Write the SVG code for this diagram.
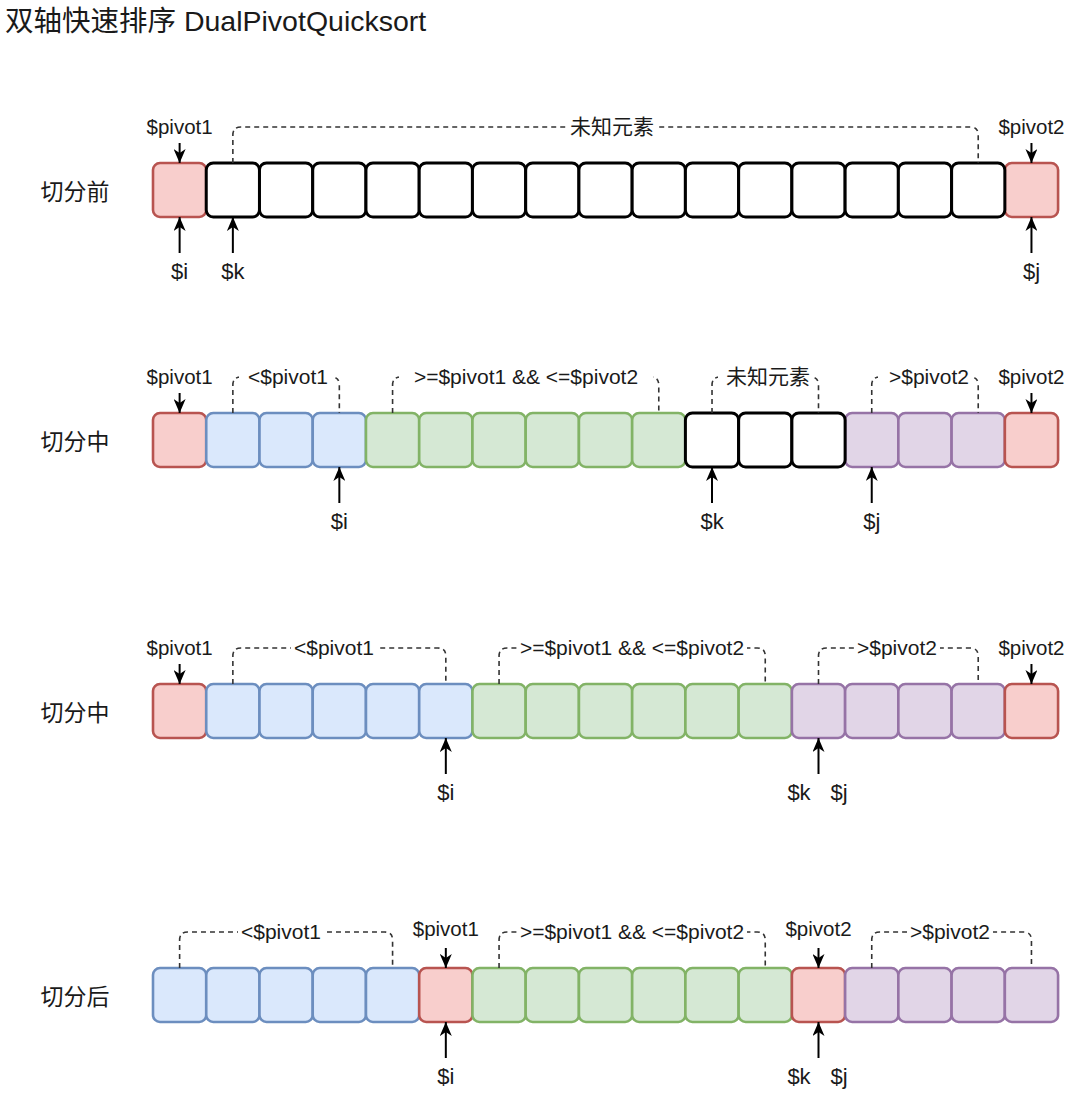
<svg xmlns="http://www.w3.org/2000/svg" width="1080" height="1094" viewBox="0 0 1080 1094">
<defs>
<style>
text{font-family:"Liberation Sans","Noto Sans CJK SC",sans-serif;fill:#1a1a1a}
.title{font-size:28.5px}
.row{font-size:23px;text-anchor:middle}
.lbl{font-size:20.5px;text-anchor:middle}
.var{font-size:22px;text-anchor:middle}
.blab{font-size:21px;text-anchor:middle}
.c{rx:7;ry:7;width:53.24px;height:54px}
.red{fill:#f8cecc;stroke:#b85450;stroke-width:2.6}
.blue{fill:#dae8fc;stroke:#6c8ebf;stroke-width:2.6}
.green{fill:#d5e8d4;stroke:#82b366;stroke-width:2.6}
.purple{fill:#e1d5e7;stroke:#9673a6;stroke-width:2.6}
.white{fill:#fff;stroke:#000;stroke-width:3}
.arr{stroke:#000;stroke-width:2;fill:none;marker-end:url(#ah)}
.br{stroke:#333;stroke-width:1.6;fill:none;stroke-dasharray:5 4}
.bg{fill:#fff}
</style>
<marker id="ah" viewBox="0 0 14 12" refX="14" refY="6" markerWidth="14" markerHeight="12" markerUnits="userSpaceOnUse" orient="auto"><path d="M0,0 L14,6 L0,12 L4,6 Z" fill="#000"/></marker>
</defs>
<rect width="1080" height="1094" fill="#fff"/>
<text class="title" x="5" y="31">双轴快速排序 DualPivotQuicksort</text>

<!-- Row 1 -->
<g id="row1">
<text class="row" x="75" y="200">切分前</text>
<g id="r1c0"><rect class="c red" x="153" y="163"/></g>
<g id="r1c16"><rect class="c red" x="1004.84" y="163"/></g>
<g id="r1c1"><rect class="c white" x="206.24" y="163"/></g>
<g id="r1c2"><rect class="c white" x="259.48" y="163"/></g>
<g id="r1c3"><rect class="c white" x="312.72" y="163"/></g>
<g id="r1c4"><rect class="c white" x="365.96" y="163"/></g>
<g id="r1c5"><rect class="c white" x="419.2" y="163"/></g>
<g id="r1c6"><rect class="c white" x="472.44" y="163"/></g>
<g id="r1c7"><rect class="c white" x="525.68" y="163"/></g>
<g id="r1c8"><rect class="c white" x="578.92" y="163"/></g>
<g id="r1c9"><rect class="c white" x="632.16" y="163"/></g>
<g id="r1c10"><rect class="c white" x="685.4" y="163"/></g>
<g id="r1c11"><rect class="c white" x="738.64" y="163"/></g>
<g id="r1c12"><rect class="c white" x="791.88" y="163"/></g>
<g id="r1c13"><rect class="c white" x="845.12" y="163"/></g>
<g id="r1c14"><rect class="c white" x="898.36" y="163"/></g>
<g id="r1c15"><rect class="c white" x="951.6" y="163"/></g>
<g id="r1-pivot1"><text class="lbl" x="179.62" y="134">$pivot1</text></g>
<g id="r1-pivot2"><text class="lbl" x="1031.46" y="134">$pivot2</text></g>
<g id="r1-i"><text class="var" x="179.62" y="279">$i</text></g>
<g id="r1-k"><text class="var" x="232.86" y="279">$k</text></g>
<g id="r1-j"><text class="var" x="1031.46" y="279">$j</text></g>
</g>

<!-- Row 2 -->
<g id="row2">
<text class="row" x="75" y="450">切分中</text>
<g id="r2c0"><rect class="c red" x="153" y="413"/></g>
<g id="r2c1"><rect class="c blue" x="206.24" y="413"/></g>
<g id="r2c2"><rect class="c blue" x="259.48" y="413"/></g>
<g id="r2c3"><rect class="c blue" x="312.72" y="413"/></g>
<g id="r2c4"><rect class="c green" x="365.96" y="413"/></g>
<g id="r2c5"><rect class="c green" x="419.2" y="413"/></g>
<g id="r2c6"><rect class="c green" x="472.44" y="413"/></g>
<g id="r2c7"><rect class="c green" x="525.68" y="413"/></g>
<g id="r2c8"><rect class="c green" x="578.92" y="413"/></g>
<g id="r2c9"><rect class="c green" x="632.16" y="413"/></g>
<g id="r2c13"><rect class="c purple" x="845.12" y="413"/></g>
<g id="r2c14"><rect class="c purple" x="898.36" y="413"/></g>
<g id="r2c15"><rect class="c purple" x="951.6" y="413"/></g>
<g id="r2c16"><rect class="c red" x="1004.84" y="413"/></g>
<g id="r2c10"><rect class="c white" x="685.4" y="413"/></g>
<g id="r2c11"><rect class="c white" x="738.64" y="413"/></g>
<g id="r2c12"><rect class="c white" x="791.88" y="413"/></g>
<g id="r2-pivot1"><text class="lbl" x="179.62" y="384">$pivot1</text></g>
<g id="r2-pivot2"><text class="lbl" x="1031.46" y="384">$pivot2</text></g>
<g id="r2-i"><text class="var" x="339.34" y="529">$i</text></g>
<g id="r2-k"><text class="var" x="712.02" y="529">$k</text></g>
<g id="r2-j"><text class="var" x="871.74" y="529">$j</text></g>
</g>

<!-- Row 3 -->
<g id="row3">
<text class="row" x="75" y="721">切分中</text>
<g id="r3c0"><rect class="c red" x="153" y="684"/></g>
<g id="r3c1"><rect class="c blue" x="206.24" y="684"/></g>
<g id="r3c2"><rect class="c blue" x="259.48" y="684"/></g>
<g id="r3c3"><rect class="c blue" x="312.72" y="684"/></g>
<g id="r3c4"><rect class="c blue" x="365.96" y="684"/></g>
<g id="r3c5"><rect class="c blue" x="419.2" y="684"/></g>
<g id="r3c6"><rect class="c green" x="472.44" y="684"/></g>
<g id="r3c7"><rect class="c green" x="525.68" y="684"/></g>
<g id="r3c8"><rect class="c green" x="578.92" y="684"/></g>
<g id="r3c9"><rect class="c green" x="632.16" y="684"/></g>
<g id="r3c10"><rect class="c green" x="685.4" y="684"/></g>
<g id="r3c11"><rect class="c green" x="738.64" y="684"/></g>
<g id="r3c12"><rect class="c purple" x="791.88" y="684"/></g>
<g id="r3c13"><rect class="c purple" x="845.12" y="684"/></g>
<g id="r3c14"><rect class="c purple" x="898.36" y="684"/></g>
<g id="r3c15"><rect class="c purple" x="951.6" y="684"/></g>
<g id="r3c16"><rect class="c red" x="1004.84" y="684"/></g>
<g id="r3-pivot1"><text class="lbl" x="179.62" y="655">$pivot1</text></g>
<g id="r3-pivot2"><text class="lbl" x="1031.46" y="655">$pivot2</text></g>
<g id="r3-i"><text class="var" x="445.82" y="800">$i</text></g>
<g id="r3-k"><text class="var" x="799" y="800">$k</text></g>
<g id="r3-j"><text class="var" x="839" y="800">$j</text></g>
</g>

<!-- Row 4 -->
<g id="row4">
<text class="row" x="75" y="1005">切分后</text>
<g id="r4c0"><rect class="c blue" x="153" y="968"/></g>
<g id="r4c1"><rect class="c blue" x="206.24" y="968"/></g>
<g id="r4c2"><rect class="c blue" x="259.48" y="968"/></g>
<g id="r4c3"><rect class="c blue" x="312.72" y="968"/></g>
<g id="r4c4"><rect class="c blue" x="365.96" y="968"/></g>
<g id="r4c5"><rect class="c red" x="419.2" y="968"/></g>
<g id="r4c6"><rect class="c green" x="472.44" y="968"/></g>
<g id="r4c7"><rect class="c green" x="525.68" y="968"/></g>
<g id="r4c8"><rect class="c green" x="578.92" y="968"/></g>
<g id="r4c9"><rect class="c green" x="632.16" y="968"/></g>
<g id="r4c10"><rect class="c green" x="685.4" y="968"/></g>
<g id="r4c11"><rect class="c green" x="738.64" y="968"/></g>
<g id="r4c12"><rect class="c red" x="791.88" y="968"/></g>
<g id="r4c13"><rect class="c purple" x="845.12" y="968"/></g>
<g id="r4c14"><rect class="c purple" x="898.36" y="968"/></g>
<g id="r4c15"><rect class="c purple" x="951.6" y="968"/></g>
<g id="r4c16"><rect class="c purple" x="1004.84" y="968"/></g>
<g id="r4-pivot1"><text class="lbl" x="445.82" y="936">$pivot1</text></g>
<g id="r4-pivot2"><text class="lbl" x="818.5" y="936">$pivot2</text></g>
<g id="r4-i"><text class="var" x="445.82" y="1084">$i</text></g>
<g id="r4-k"><text class="var" x="799" y="1084">$k</text></g>
<g id="r4-j"><text class="var" x="839" y="1084">$j</text></g>
</g>

<!-- Connectors -->
<g id="connectors">
<!-- row 1 -->
<line class="arr" x1="179.62" y1="143" x2="179.62" y2="163"/>
<line class="arr" x1="1031.46" y1="143" x2="1031.46" y2="163"/>
<line class="arr" x1="179.62" y1="253" x2="179.62" y2="217"/>
<line class="arr" x1="232.86" y1="253" x2="232.86" y2="217"/>
<line class="arr" x1="1031.46" y1="253" x2="1031.46" y2="217"/>
<path class="br" d="M232.86,163 V135 Q232.86,127 240.86,127 H970.22 Q978.22,127 978.22,135 V163"/>
<!-- row 2 -->
<line class="arr" x1="179.62" y1="393" x2="179.62" y2="413"/>
<line class="arr" x1="1031.46" y1="393" x2="1031.46" y2="413"/>
<line class="arr" x1="339.34" y1="503" x2="339.34" y2="467"/>
<line class="arr" x1="712.02" y1="503" x2="712.02" y2="467"/>
<line class="arr" x1="871.74" y1="503" x2="871.74" y2="467"/>
<path class="br" d="M232.86,413 V385 Q232.86,377 240.86,377 H331.34 Q339.34,377 339.34,385 V413"/>
<path class="br" d="M392.58,413 V385 Q392.58,377 400.58,377 H650.78 Q658.78,377 658.78,385 V413"/>
<path class="br" d="M712.02,413 V385 Q712.02,377 720.02,377 H810.5 Q818.5,377 818.5,385 V413"/>
<path class="br" d="M871.74,413 V385 Q871.74,377 879.74,377 H970.22 Q978.22,377 978.22,385 V413"/>
<!-- row 3 -->
<line class="arr" x1="179.62" y1="664" x2="179.62" y2="684"/>
<line class="arr" x1="1031.46" y1="664" x2="1031.46" y2="684"/>
<line class="arr" x1="445.82" y1="774" x2="445.82" y2="738"/>
<line class="arr" x1="818.5" y1="774" x2="818.5" y2="738"/>
<path class="br" d="M232.86,684 V656 Q232.86,648 240.86,648 H437.82 Q445.82,648 445.82,656 V684"/>
<path class="br" d="M499.06,684 V656 Q499.06,648 507.06,648 H757.26 Q765.26,648 765.26,656 V684"/>
<path class="br" d="M818.5,684 V656 Q818.5,648 826.5,648 H970.22 Q978.22,648 978.22,656 V684"/>
<!-- row 4 -->
<line class="arr" x1="445.82" y1="948" x2="445.82" y2="968"/>
<line class="arr" x1="818.5" y1="948" x2="818.5" y2="968"/>
<line class="arr" x1="445.82" y1="1058" x2="445.82" y2="1022"/>
<line class="arr" x1="818.5" y1="1058" x2="818.5" y2="1022"/>
<path class="br" d="M179.62,968 V940 Q179.62,932 187.62,932 H384.58 Q392.58,932 392.58,940 V968"/>
<path class="br" d="M499.06,968 V940 Q499.06,932 507.06,932 H757.26 Q765.26,932 765.26,940 V968"/>
<path class="br" d="M871.74,968 V940 Q871.74,932 879.74,932 H1023.46 Q1031.46,932 1031.46,940 V968"/>
</g>

<!-- Bracket labels -->
<g id="bracket-labels">
<rect class="bg" x="567" y="117" width="90" height="20"/>
<text class="blab" x="612" y="134">未知元素</text>
<rect class="bg" x="239" y="367" width="95" height="20"/>
<text class="blab" x="288" y="384">&lt;$pivot1</text>
<rect class="bg" x="399" y="367" width="254" height="20"/>
<text class="blab" x="526" y="384">&gt;=$pivot1 &amp;&amp; &lt;=$pivot2</text>
<rect class="bg" x="718" y="367" width="95" height="20"/>
<text class="blab" x="768" y="384">未知元素</text>
<rect class="bg" x="878" y="367" width="95" height="20"/>
<text class="blab" x="929" y="384">&gt;$pivot2</text>
<rect class="bg" x="291" y="638" width="86" height="20"/>
<text class="blab" x="334" y="655">&lt;$pivot1</text>
<rect class="bg" x="517" y="638" width="230" height="20"/>
<text class="blab" x="632" y="655">&gt;=$pivot1 &amp;&amp; &lt;=$pivot2</text>
<rect class="bg" x="854" y="638" width="86" height="20"/>
<text class="blab" x="897" y="655">&gt;$pivot2</text>
<rect class="bg" x="238" y="922" width="86" height="20"/>
<text class="blab" x="281" y="939">&lt;$pivot1</text>
<rect class="bg" x="517" y="922" width="230" height="20"/>
<text class="blab" x="632" y="939">&gt;=$pivot1 &amp;&amp; &lt;=$pivot2</text>
<rect class="bg" x="907" y="922" width="86" height="20"/>
<text class="blab" x="950" y="939">&gt;$pivot2</text>
</g>
</svg>
